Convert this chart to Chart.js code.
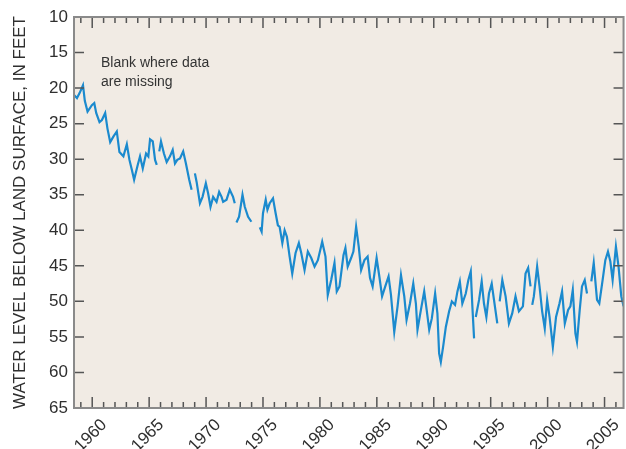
<!DOCTYPE html>
<html>
<head>
<meta charset="utf-8">
<script src="https://cdn.jsdelivr.net/npm/chart.js@4.4.1/dist/chart.umd.min.js"></script>
<style>
  html, body { margin: 0; padding: 0; background: #fff; }
  #wrap { width: 626px; height: 449px; }
</style>
</head>
<body>
<div id="wrap"><canvas id="nivelChart" width="626" height="449"></canvas></div>
<script>
// Datos (anio decimal, nivel en pies bajo la superficie)
// null = hueco donde faltan datos
const years = [
  1958.42, 1958.66, 1958.89, 1959.19, 1959.35, 1959.59, 1959.97, 1960.18, 1960.35, 1960.64,
  1960.85, 1961.14, 1961.34, 1961.58, 1961.87, 1962.16, 1962.39, 1962.74, 1963.04, 1963.27,
  1963.48, 1963.68, 1963.97, 1964.20, 1964.44, 1964.73, 1964.93, 1965.08, 1965.32, 1965.52,
  1965.67, 1965.75, 1965.89, 1966.04, 1966.30, 1966.54, 1966.83, 1967.07, 1967.27, 1967.47,
  1967.71, 1967.99, 1968.23, 1968.52, 1968.73, 1968.85, 1969.02, 1969.17, 1969.46, 1969.69,
  1969.98, 1970.18, 1970.39, 1970.62, 1970.92, 1971.15, 1971.36, 1971.50, 1971.80, 1972.08,
  1972.37, 1972.52, 1972.60, 1972.67, 1972.90, 1973.20, 1973.40, 1973.69, 1973.98, 1974.30,
  1974.72, 1974.88, 1975.00, 1975.24, 1975.39, 1975.59, 1975.88, 1976.11, 1976.31, 1976.46,
  1976.70, 1976.90, 1977.10, 1977.34, 1977.57, 1977.86, 1978.15, 1978.36, 1978.65, 1978.94,
  1979.24, 1979.53, 1979.82, 1980.20, 1980.49, 1980.69, 1980.99, 1981.28, 1981.48, 1981.72,
  1982.07, 1982.24, 1982.44, 1982.74, 1982.94, 1983.18, 1983.41, 1983.62, 1983.91, 1984.19,
  1984.40, 1984.63, 1984.98, 1985.22, 1985.46, 1985.74, 1986.03, 1986.24, 1986.53, 1986.82,
  1987.12, 1987.41, 1987.61, 1987.91, 1988.20, 1988.43, 1988.57, 1988.87, 1989.16, 1989.36,
  1989.60, 1989.83, 1990.12, 1990.32, 1990.47, 1990.62, 1990.82, 1991.06, 1991.35, 1991.59,
  1991.87, 1992.08, 1992.29, 1992.51, 1992.81, 1993.04, 1993.25, 1993.39, 1993.54, 1993.61,
  1993.69, 1993.98, 1994.21, 1994.41, 1994.62, 1994.85, 1995.09, 1995.29, 1995.58, 1995.68,
  1995.79, 1996.02, 1996.31, 1996.60, 1996.89, 1997.18, 1997.48, 1997.83, 1998.06, 1998.29,
  1998.50, 1998.56, 1998.65, 1998.79, 1999.08, 1999.29, 1999.52, 1999.75, 1999.96, 2000.17,
  2000.46, 2000.74, 2001.04, 2001.27, 2001.51, 2001.80, 2002.00, 2002.21, 2002.44, 2002.58,
  2002.82, 2003.02, 2003.26, 2003.46, 2003.62, 2003.84, 2004.05, 2004.34, 2004.54, 2004.83,
  2005.07, 2005.30, 2005.51, 2005.71, 2006.00, 2006.23, 2006.47, 2006.67
];
const levels = [
  21.0, 21.4, 20.7, 19.6, 21.8, 23.3, 22.4, 22.1, 23.5, 24.8,
  24.5, 23.5, 25.7, 27.6, 26.8, 26.1, 29.0, 29.6, 27.9, 30.1,
  31.5, 32.9, 31.0, 29.6, 31.3, 29.2, 29.6, 27.2, 27.5, 30.1,
  30.8, null, 28.9, 27.5, 29.2, 30.4, 29.6, 28.7, 30.6, 30.1,
  29.9, 28.9, 30.6, 32.9, 34.3, null, 32.0, 33.2, 36.2, 35.3,
  33.4, 34.8, 36.7, 35.3, 36.0, 34.6, 35.3, 36.0, 35.7, 34.3,
  35.3, 36.2, null, 38.9, 38.1, 35.0, 36.7, 38.1, 38.8, null,
  39.6, 40.2, 37.6, 35.7, 37.1, 36.2, 35.5, 37.6, 39.3, 39.5,
  41.8, 40.0, 40.9, 43.7, 46.1, 43.2, 41.8, 43.2, 45.6, 43.0,
  43.9, 45.1, 44.2, 41.6, 43.7, 49.1, 47.0, 44.6, 48.6, 47.9,
  43.5, 42.5, 45.1, 43.9, 43.0, 39.5, 42.3, 45.6, 44.2, 43.7,
  46.7, 47.9, 43.9, 46.5, 49.3, 47.9, 46.5, 49.1, 54.3, 50.7,
  46.3, 49.3, 52.6, 50.3, 47.5, 50.3, 54.0, 51.2, 48.6, 51.0,
  54.0, 52.4, 48.9, 51.7, 57.3, 58.5, 56.4, 53.6, 51.4, 50.0,
  50.5, 48.6, 47.2, 50.3, 48.9, 47.0, 45.8, 50.7, 55.2, null,
  52.2, 49.8, 47.2, 50.3, 52.2, 48.9, 47.5, 49.8, 53.1, null,
  50.0, 47.0, 49.3, 53.1, 51.7, 49.3, 51.4, 50.7, 46.1, 45.3,
  47.9, null, 50.5, 49.3, 45.1, 47.9, 51.4, 53.8, 49.8, 52.2,
  56.4, 52.2, 50.3, 48.6, 53.1, 51.2, 50.7, 48.4, 54.5, 55.7,
  51.2, 47.9, 47.0, 48.9, null, 47.2, 44.6, 49.8, 50.3, 47.0,
  44.2, 43.0, 44.4, 47.0, 42.3, 45.1, 49.3, 50.7
];
const yTicks = [10, 15, 20, 25, 30, 35, 40, 45, 50, 55, 60, 65];
const xTickYears = [1960, 1965, 1970, 1975, 1980, 1985, 1990, 1995, 2000, 2005];
const xMinorYears = [];
for (let a = 1959; a <= 2006; a++) xMinorYears.push(a);
const nota = ["Blank where data", "are missing"];

const FUENTE = "'Liberation Sans', Arial, sans-serif";

// Fondo, marco, marcas hacia dentro y nota
const marcoPlugin = {
    id: "marco",
    beforeDraw(chart) {
        const { ctx, chartArea: a } = chart;
        ctx.save();
        ctx.fillStyle = "#f1ebe4";
        ctx.fillRect(a.left, a.top, a.right - a.left, a.bottom - a.top);
        ctx.restore();
    },
    afterDraw(chart) {
        const { ctx, chartArea: a } = chart;
        const x = chart.scales.x, y = chart.scales.y;
        ctx.save();
        ctx.strokeStyle = "#555";
        ctx.lineWidth = 1.5;
        ctx.beginPath();
        xMinorYears.forEach(v => {
            const px = x.getPixelForValue(v);
            const len = xTickYears.includes(v) ? 11 : 6;
            ctx.moveTo(px, a.top); ctx.lineTo(px, a.top + len);
            ctx.moveTo(px, a.bottom); ctx.lineTo(px, a.bottom - len);
        });
        yTicks.forEach(v => {
            const py = y.getPixelForValue(v);
            ctx.moveTo(a.left, py); ctx.lineTo(a.left + 10, py);
            ctx.moveTo(a.right, py); ctx.lineTo(a.right - 10, py);
        });
        ctx.stroke();

        ctx.strokeStyle = "#8a8a8a";
        ctx.lineWidth = 2;
        ctx.strokeRect(a.left, a.top, a.right - a.left, a.bottom - a.top);

        ctx.fillStyle = "#333";
        ctx.font = "14px " + FUENTE;
        ctx.textAlign = "left";
        ctx.textBaseline = "alphabetic";
        ctx.fillText(nota[0], 101, 67);
        ctx.fillText(nota[1], 101, 86);
        ctx.restore();
    }
};

const ctx = document.getElementById("nivelChart").getContext("2d");
new Chart(ctx, {
    type: "line",
    data: {
        datasets: [{
            label: "Nivel del agua",
            data: years.map((a, i) => ({ x: a, y: levels[i] })),
            borderColor: "#1b8ace",
            borderWidth: 2.2,
            pointRadius: 0,
            tension: 0,
            spanGaps: false,
            fill: false
        }]
    },
    options: {
        responsive: false,
        animation: false,
        layout: { padding: { left: 0, top: 17, right: 1, bottom: 0 } },
        plugins: {
            legend: { display: false },
            tooltip: { enabled: false }
        },
        scales: {
            x: {
                type: "linear",
                min: 1958.4,
                max: 2006.67,
                afterBuildTicks: s => { s.ticks = xTickYears.map(v => ({ value: v })); },
                afterFit: s => { s.height = 41; },
                grid: { display: false, drawTicks: false },
                border: { display: false },
                ticks: {
                    autoSkip: false,
                    minRotation: 45,
                    maxRotation: 45,
                    padding: 7,
                    labelOffset: 12,
                    color: "#2f2f2f",
                    font: { family: FUENTE, size: 17 },
                    callback: v => String(v)
                }
            },
            y: {
                reverse: true,
                min: 10,
                max: 65,
                afterBuildTicks: s => { s.ticks = yTicks.map(v => ({ value: v })); },
                afterFit: s => { s.width = 74; },
                grid: { display: false, drawTicks: false },
                border: { display: false },
                ticks: {
                    padding: 6,
                    color: "#2f2f2f",
                    font: { family: FUENTE, size: 17 }
                },
                title: {
                    display: true,
                    text: "WATER LEVEL BELOW LAND SURFACE, IN FEET",
                    color: "#2f2f2f",
                    font: { family: FUENTE, size: 17 },
                    padding: { top: 10, bottom: 0 }
                }
            }
        }
    },
    plugins: [marcoPlugin]
});
</script>
</body>
</html>
